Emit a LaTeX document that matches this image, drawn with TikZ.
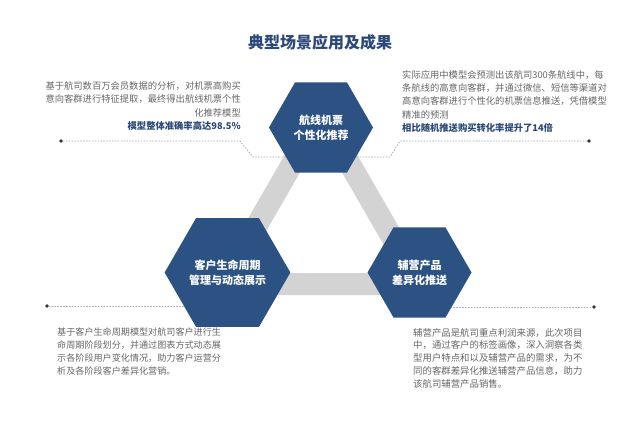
\documentclass[tikz,border=0pt]{standalone}
\usepackage{fontspec}
\setmainfont{Noto Sans CJK SC}
\usetikzlibrary{shapes.geometric}
\usepackage{xcolor}
\definecolor{hexblue}{HTML}{2C5283}
\definecolor{headblue}{HTML}{2B4A78}
\definecolor{bodygray}{HTML}{666666}
\definecolor{barGray}{HTML}{D3D3D3}
\definecolor{leadGray}{HTML}{A8A8A8}

\begin{document}
\begin{tikzpicture}[
      x=1pt,y=-1pt,
      hexa/.style={regular polygon,regular polygon sides=6,minimum size=104pt,inner sep=0pt,
        fill=hexblue,text=white,font=\fontsize{11}{15}\selectfont\bfseries,align=center},
      body/.style={inner sep=0pt,text=bodygray,font=\fontsize{9.3}{13.6}\selectfont},
      note/.style={text=headblue,font=\bfseries},
      leader/.style={leadGray,dotted,line width=0.9pt,line cap=round},
      dotmark/.style={circle,fill=black!80,inner sep=0pt,minimum size=3.6pt}]
    \useasboundingbox (0,0) rectangle (640,422);
    % title
    \node[font=\fontsize{16}{16}\selectfont\bfseries,text=headblue] (title) at (320,42) {典型场景应用及成果};
    % triangle behind the hexagons
    \coordinate (triTop) at (321,114);
    \coordinate (triLeft) at (223,284);
    \coordinate (triRight) at (419,284);
    \draw[barGray,line width=22pt,line join=miter] (triLeft) -- (triTop) -- (triRight) -- cycle;
    % leader lines
    \node[dotmark] (tlDot) at (61,141) {};
    \coordinate (tlBend) at (240,141);
    \coordinate (tlFoot) at (253,157);
    \coordinate (tlEnd) at (292,157);
    \draw[leader] (tlDot) -- (tlBend) -- (tlFoot) -- (tlEnd);
    \node[dotmark] (trDot) at (589,141) {};
    \coordinate (trBend) at (400,141);
    \coordinate (trFoot) at (390,157);
    \coordinate (trEnd) at (350,157);
    \draw[leader] (trDot) -- (trBend) -- (trFoot) -- (trEnd);
    \node[dotmark] (blDot) at (47,306) {};
    \coordinate (blEnd) at (205,306);
    \draw[leader] (blDot) -- (blEnd);
    \node[dotmark] (brDot) at (594,307) {};
    \coordinate (brEnd) at (445,307);
    \draw[leader] (brEnd) -- (brDot);
    % hexagons
    \node[hexa] (route) at (321,127.5) {航线机票\\个性化推荐};
    \node[hexa] (life) at (227.5,272.5) {客户生命周期\\管理与动态展示};
    \node[hexa] (extra) at (419.5,272.5) {辅营产品\\差异化推送};
    % descriptions
    \node[body,anchor=north east,align=right] (routeText) at (241,81)
      {基于航司数百万会员数据的分析，对机票高购买\\
       意向客群进行特征提取，最终得出航线机票个性\\
       化推荐模型\\
       {\color{headblue}\bfseries 模型整体准确率高达98.5\%}};
    \node[body,anchor=north west,align=left,font=\fontsize{9.3}{13.3}\selectfont] (resultText) at (402,70)
      {实际应用中模型会预测出该航司300条航线中，每\\
       条航线的高意向客群，并通过微信、短信等渠道对\\
       高意向客群进行个性化的机票信息推送，凭借模型\\
       精准的预测\\
       {\color{headblue}\bfseries 相比随机推送购买转化率提升了14倍}};
    \node[body,anchor=north west,align=left,font=\fontsize{9.1}{12.7}\selectfont] (lifeText) at (57,328)
      {基于客户生命周期模型对航司客户进行生\\
       命周期阶段划分，并通过图表方式动态展\\
       示各阶段用户变化情况，助力客户运营分\\
       析及各阶段客户差异化营销。};
    \node[body,anchor=north west,align=left,font=\fontsize{9.4}{12.7}\selectfont] (extraText) at (413,328)
      {辅营产品是航司重点利润来源，此次项目\\
       中，通过客户的标签画像，深入洞察各类\\
       型用户特点和以及辅营产品的需求，为不\\
       同的客群差异化推送辅营产品信息，助力\\
       该航司辅营产品销售。};
  \end{tikzpicture}
\end{document}
